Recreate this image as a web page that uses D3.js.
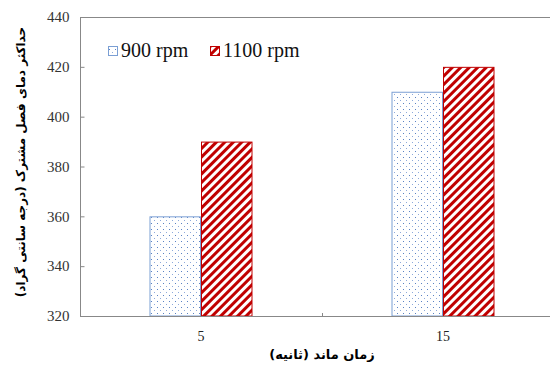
<!DOCTYPE html>
<html><head><meta charset="utf-8">
<script src="https://cdn.jsdelivr.net/npm/d3@7"></script>
<style>body{margin:0;background:#fff}</style>
</head><body>
<svg id="c" width="550" height="365"></svg>
<script>
const categories = ["5", "15"];
const seriesNames = ["900 rpm", "1100 rpm"];
const values900 = [360, 410];
const values1100 = [390, 420];
const yTicks = [320, 340, 360, 380, 400, 420, 440];
const yTitle = "حداکثر دمای فصل مشترک (درجه سانتی گراد)";
const xTitle = "زمان ماند (ثانیه)";

const svg = d3.select("#c");
const m = {l: 80, r: 564, t: 17, b: 316};
const x = d3.scaleBand().domain(categories).range([m.l, m.r]);
const y = d3.scaleLinear().domain([320, 440]).range([m.b, m.t]);
const sub = d3.scaleBand().domain(seriesNames).range([0, 103]);

const defs = svg.append("defs");
const pd = defs.append("pattern").attr("id", "dots").attr("patternUnits", "userSpaceOnUse")
  .attr("width", 6).attr("height", 6);
pd.append("rect").attr("width", 6).attr("height", 6).attr("fill", "#fff");
pd.append("rect").attr("x", 1).attr("y", 1).attr("width", 1).attr("height", 1).attr("fill", "#5a82c4");
pd.append("rect").attr("x", 4).attr("y", 4).attr("width", 1).attr("height", 1).attr("fill", "#8eaadb");
const ph = defs.append("pattern").attr("id", "hatch").attr("patternUnits", "userSpaceOnUse")
  .attr("width", 6).attr("height", 6).attr("patternTransform", "rotate(45)");
ph.append("rect").attr("width", 6).attr("height", 6).attr("fill", "#fff");
ph.append("rect").attr("x", 0).attr("width", 3).attr("height", 6).attr("fill", "#c00000");

// frame
svg.append("line").attr("x1", m.l).attr("x2", 550).attr("y1", m.t + 0.5).attr("y2", m.t + 0.5).attr("stroke", "#888");
svg.append("line").attr("x1", m.l + 0.5).attr("x2", m.l + 0.5).attr("y1", m.t).attr("y2", m.b).attr("stroke", "#888");

const series = [
  {name: seriesNames[0], vals: values900, fill: "url(#dots)", stroke: "#7b9fd4"},
  {name: seriesNames[1], vals: values1100, fill: "url(#hatch)", stroke: "#c00000"}
];
series.forEach(s => {
  svg.append("g").selectAll("rect").data(categories).join("rect")
    .attr("x", (c) => x(c) + x.bandwidth() / 2 - 51.5 + sub(s.name) + 0.5)
    .attr("y", (c, i) => y(s.vals[i]) + 0.5)
    .attr("width", sub.bandwidth() - 1)
    .attr("height", (c, i) => y(320) - y(s.vals[i]) - 0.5)
    .attr("fill", s.fill).attr("stroke", s.stroke).attr("stroke-width", 1);
});

// y axis
const ya = svg.append("g").attr("transform", `translate(${m.l + 0.5},0)`)
  .call(d3.axisLeft(y).tickValues(yTicks).tickSize(-4).tickPadding(11));
ya.attr("font-family", "Liberation Serif");
ya.select(".domain").remove();
ya.selectAll("line").attr("stroke", "#888");
ya.selectAll("text").attr("font-family", "Liberation Serif").attr("font-size", 15).attr("fill", "#333");

// x axis
svg.append("line").attr("x1", m.l).attr("x2", 550).attr("y1", m.b + 0.5).attr("y2", m.b + 0.5).attr("stroke", "#888");
svg.append("line").attr("x1", x("15") + 0.5).attr("x2", x("15") + 0.5).attr("y1", m.b - 3).attr("y2", m.b).attr("stroke", "#888");
svg.append("g").selectAll("text").data(categories).join("text")
  .attr("x", c => x(c) + x.bandwidth() / 2).attr("y", 341)
  .attr("text-anchor", "middle").attr("font-family", "Liberation Serif").attr("font-size", 14).attr("fill", "#222")
  .text(c => c);

// titles
svg.append("text").attr("x", (m.l + m.r) / 2).attr("y", 359).attr("text-anchor", "middle")
  .attr("font-family", "DejaVu Sans").attr("font-weight", "bold").attr("font-size", 13)
  .text(xTitle);
svg.append("text").attr("transform", "translate(25,162) rotate(-90)").attr("text-anchor", "middle")
  .attr("font-family", "DejaVu Sans").attr("font-weight", "bold").attr("font-size", 12)
  .text(yTitle);

// legend
const leg = [{x: 108, s: series[0]}, {x: 210, s: series[1]}];
leg.forEach(l => {
  svg.append("rect").attr("x", l.x + 0.5).attr("y", 46.5).attr("width", 9).attr("height", 9)
    .attr("fill", l.s.fill).attr("stroke", l.s.stroke);
  svg.append("text").attr("x", l.x + 13).attr("y", 57).attr("font-family", "Liberation Serif")
    .attr("font-size", 20).attr("fill", "#111").text(l.s.name);
});
</script>
</body></html>
